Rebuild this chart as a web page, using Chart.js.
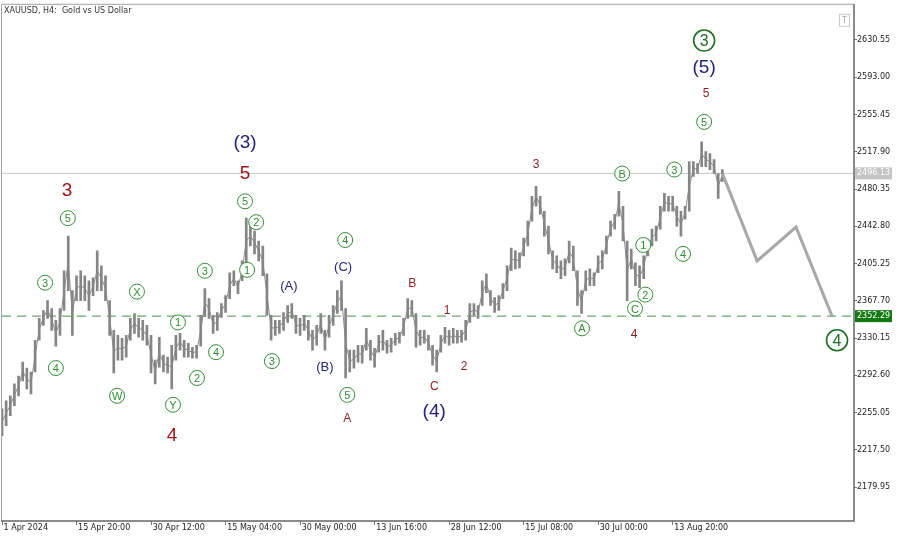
<!DOCTYPE html>
<html>
<head>
<meta charset="utf-8">
<script src="https://cdn.jsdelivr.net/npm/chart.js@4/dist/chart.umd.min.js"></script>
<style>
  body { margin: 0; background: #fff; }
  canvas { display: block; }
</style>
</head>
<body>
<canvas id="chart" width="900" height="537"></canvas>
<script>
// H4 price, sampled every few bars (high / low of each sample)
const highs = [2259,2267,2272,2284,2292,2306,2300,2296,2328,2350,
  2358,2368,2360,2348,2360,2398,2433,2378,2393,2398,
  2393,2388,2391,2418,2403,2393,2368,2338,2333,2330,
  2333,2350,2355,2350,2348,2343,2333,2308,2331,2313,
  2311,2323,2333,2335,2328,2325,2321,2323,2353,2380,
  2370,2353,2356,2365,2373,2396,2398,2388,2408,2451,
  2443,2438,2428,2423,2395,2353,2348,2348,2356,2363,
  2365,2353,2350,2353,2348,2338,2343,2355,2338,2353,
  2363,2378,2388,2360,2318,2318,2323,2323,2340,2328,
  2320,2333,2338,2328,2330,2335,2336,2350,2370,2368,
  2355,2338,2338,2333,2323,2318,2333,2341,2338,2340,
  2338,2338,2348,2365,2365,2363,2388,2395,2378,2371,
  2373,2385,2403,2421,2418,2416,2431,2448,2473,2483,
  2473,2458,2443,2418,2413,2408,2410,2428,2423,2398,
  2378,2398,2400,2396,2413,2418,2433,2448,2455,2478,
  2463,2428,2420,2406,2403,2413,2430,2440,2443,2463,
  2476,2473,2473,2463,2458,2463,2508,2508,2506,2528,
  2518,2516,2510,2496,2500];
const lows = [2232,2242,2252,2262,2272,2287,2279,2274,2296,2328,
  2343,2350,2338,2322,2333,2358,2378,2333,2368,2368,
  2368,2358,2373,2378,2378,2368,2333,2295,2308,2308,
  2311,2328,2335,2331,2328,2323,2295,2284,2301,2296,
  2295,2279,2308,2318,2311,2311,2310,2310,2322,2352,
  2350,2335,2338,2351,2356,2370,2383,2375,2388,2405,
  2423,2415,2408,2393,2353,2328,2333,2335,2338,2346,
  2350,2335,2333,2338,2328,2318,2323,2335,2318,2331,
  2343,2355,2358,2290,2296,2300,2306,2305,2318,2308,
  2301,2316,2318,2315,2316,2323,2325,2333,2350,2353,
  2321,2323,2325,2318,2303,2296,2316,2325,2323,2325,
  2325,2326,2328,2346,2353,2350,2363,2376,2363,2356,
  2358,2370,2378,2398,2400,2401,2413,2423,2448,2463,
  2455,2433,2415,2400,2396,2390,2393,2406,2398,2363,
  2355,2378,2383,2383,2396,2400,2415,2433,2440,2453,
  2428,2368,2400,2383,2381,2390,2413,2423,2428,2440,
  2458,2458,2458,2443,2433,2450,2458,2493,2496,2503,
  2503,2500,2496,2471,2488];

// forecast path (bar index / price)
const forecastBars = [174, 182.4, 191.8, 200.5];
const forecastPrices = [2496.13, 2408, 2442, 2352.29];

const lastPrice = 2496.13;
const supportPrice = 2352.29;

const timeLabels = ['1 Apr 2024','15 Apr 20:00','30 Apr 12:00','15 May 04:00','30 May 00:00',
  '13 Jun 16:00','28 Jun 12:00','15 Jul 08:00','30 Jul 00:00','13 Aug 20:00'];
const barsPerLabel = 18;
const priceTicks = [2630.55,2593.00,2555.45,2517.90,2480.35,2442.80,2405.25,2367.70,2330.15,2292.60,2255.05,2217.50,2179.95];

// wave labels: [text, bar, price]
const circledLabels = [['3',10.4,2386],['4',13.0,2300],['5',15.9,2451],['W',27.8,2272],['X',32.6,2377],
  ['1',42.5,2346],['Y',41.3,2263],['2',47.1,2290],['3',49.0,2398],['4',51.7,2316],['5',58.7,2468],
  ['2',61.4,2447],['1',59.2,2399],['3',65.2,2307],['4',82.9,2429],['5',83.4,2273],['A',140.1,2340],
  ['B',149.8,2496],['1',154.9,2424],['2',155.4,2374],['C',152.9,2360],['3',162.4,2500],['4',164.5,2415],
  ['5',169.6,2548]];
const bigCircledLabels = [['3',169.6,2630],['4',201.7,2328]];
const redWaveLabels = [['3',15.7,2479],['5',58.7,2496],['4',41.1,2232]];
const redSubLabels = [['A',83.4,2249],['B',99.1,2385],['C',104.4,2281],['1',107.5,2358],['2',111.6,2301],
  ['3',129.0,2505],['4',152.7,2334],['5',170.1,2576]];
const navyWaveLabels = [['(3)',58.7,2527],['(4)',104.4,2256],['(5)',169.6,2603]];
const navySubLabels = [['(A)',69.3,2382],['(B)',78.0,2301],['(C)',82.4,2401]];

const xMax = 205.8;
const yMin = 2145.9, yMax = 2666.0;

const candleData = highs.map((h, i) => ({x: i, y: [lows[i], h]}));
const midData = highs.map((h, i) => ({x: i, y: (h + lows[i]) / 2}));
const forecastData = forecastBars.map((b, i) => ({x: b, y: forecastPrices[i]}));

const labelFont = 'Liberation Sans, Arial, sans-serif';

const wavePlugin = {
  id: 'waves',
  afterDatasetsDraw(chart) {
    const ctx = chart.ctx;
    const xs = chart.scales.x, ys = chart.scales.y;
    ctx.save();
    ctx.textAlign = 'center';
    ctx.textBaseline = 'middle';

    function ring(list, r, size, color, lw) {
      list.forEach(([t, b, p]) => {
        const x = xs.getPixelForValue(b), y = ys.getPixelForValue(p);
        ctx.beginPath();
        ctx.arc(x, y, r, 0, Math.PI * 2);
        ctx.fillStyle = '#fff';
        ctx.fill();
        ctx.lineWidth = lw;
        ctx.strokeStyle = color;
        ctx.stroke();
        ctx.fillStyle = color;
        ctx.font = size + 'px ' + labelFont;
        ctx.fillText(t, x, y + 1);
      });
    }
    function plain(list, size, color) {
      ctx.font = size + 'px ' + labelFont;
      ctx.fillStyle = color;
      list.forEach(([t, b, p]) => {
        ctx.fillText(t, xs.getPixelForValue(b), ys.getPixelForValue(p));
      });
    }
    ring(circledLabels, 7.5, 11, '#2f9032', 1);
    ring(bigCircledLabels, 10.5, 16, '#1e6e22', 1.6);
    plain(redWaveLabels, 19, '#a01414');
    plain(redSubLabels, 12, '#8e1c1c');
    plain(navyWaveLabels, 19, '#24247a');
    plain(navySubLabels, 13, '#24247a');
    ctx.restore();
  },
  afterDraw(chart) {
    const ctx = chart.ctx;
    const a = chart.chartArea;
    const ys = chart.scales.y;
    ctx.save();
    // frame
    ctx.lineWidth = 1;
    ctx.strokeStyle = '#a0a0a0';
    ctx.beginPath();
    ctx.moveTo(a.left - 0.5, a.bottom);
    ctx.lineTo(a.left - 0.5, a.top - 0.5);
    ctx.lineTo(a.right, a.top - 0.5);
    ctx.stroke();
    ctx.lineWidth = 1.5;
    ctx.strokeStyle = '#666';
    ctx.beginPath();
    ctx.moveTo(a.right, a.top - 0.5);
    ctx.lineTo(a.right, a.bottom);
    ctx.lineTo(a.left - 1, a.bottom);
    ctx.stroke();

    // title
    ctx.font = '8px DejaVu Sans, sans-serif';
    ctx.fillStyle = '#333';
    ctx.textBaseline = 'middle';
    ctx.textAlign = 'left';
    ctx.fillText('XAUUSD, H4:  Gold vs US Dollar', a.left + 2, a.top + 6);

    // small T button
    ctx.strokeStyle = '#c8c8c8';
    ctx.lineWidth = 1;
    ctx.strokeRect(a.right - 14.5, a.top + 9.5, 10, 12);
    ctx.fillStyle = '#aaa';
    ctx.font = '8px DejaVu Sans, sans-serif';
    ctx.textAlign = 'center';
    ctx.fillText('T', a.right - 9.5, a.top + 16);

    // price tags
    function tag(v, bg) {
      const y = ys.getPixelForValue(v);
      ctx.fillStyle = bg;
      ctx.fillRect(a.right + 1, y - 6, 37, 12);
      ctx.fillStyle = '#fff';
      ctx.textAlign = 'left';
      ctx.fillText(v.toFixed(2), a.right + 3, y);
    }
    tag(lastPrice, '#c4c4c4');
    tag(supportPrice, '#137a13');
    ctx.restore();
  }
};

const ctx = document.getElementById('chart').getContext('2d');
new Chart(ctx, {
  type: 'bar',
  data: {
    datasets: [
      {
        type: 'line',
        data: [{x: 0, y: lastPrice}, {x: xMax, y: lastPrice}],
        borderColor: '#c8c8c8',
        borderWidth: 1,
        pointRadius: 0,
        order: 5
      },
      {
        type: 'line',
        data: [{x: 0, y: supportPrice}, {x: xMax, y: supportPrice}],
        borderColor: '#6ea86e',
        borderWidth: 1.3,
        borderDash: [9, 6],
        pointRadius: 0,
        order: 4
      },
      {
        type: 'line',
        data: midData,
        borderColor: '#8a8a8a',
        borderWidth: 1,
        pointRadius: 0,
        tension: 0,
        order: 3
      },
      {
        type: 'bar',
        data: candleData,
        backgroundColor: '#858585',
        barThickness: 2,
        order: 2
      },
      {
        type: 'line',
        data: forecastData,
        borderColor: '#a8a8a8',
        borderWidth: 3,
        pointRadius: 0,
        tension: 0,
        order: 1
      }
    ]
  },
  options: {
    responsive: false,
    animation: false,
    layout: { padding: { left: 2, top: 3, right: 0, bottom: 0 } },
    plugins: { legend: { display: false }, tooltip: { enabled: false } },
    scales: {
      x: {
        type: 'linear',
        min: 0,
        max: xMax,
        offset: false,
        border: { display: false },
        grid: { offset: false, drawOnChartArea: false, tickLength: 4, color: '#777' },
        afterBuildTicks: s => { s.ticks = timeLabels.map((t, k) => ({ value: k * barsPerLabel })); },
        afterFit: s => { s.height = 16; },
        ticks: {
          autoSkip: false,
          maxRotation: 0,
          align: 'start',
          padding: -2,
          color: '#222',
          font: { family: 'DejaVu Sans', size: 8 },
          callback: v => '\u2009' + timeLabels[Math.round(v / barsPerLabel)]
        }
      },
      y: {
        position: 'right',
        min: yMin,
        max: yMax,
        border: { display: false },
        grid: { drawOnChartArea: false, tickLength: 3, color: '#777' },
        afterBuildTicks: s => { s.ticks = priceTicks.map(v => ({ value: v })); },
        afterFit: s => { s.width = 46; },
        ticks: {
          padding: 0,
          color: '#222',
          font: { family: 'DejaVu Sans', size: 8 },
          callback: v => v.toFixed(2)
        }
      }
    }
  },
  plugins: [wavePlugin]
});
</script>
</body>
</html>
